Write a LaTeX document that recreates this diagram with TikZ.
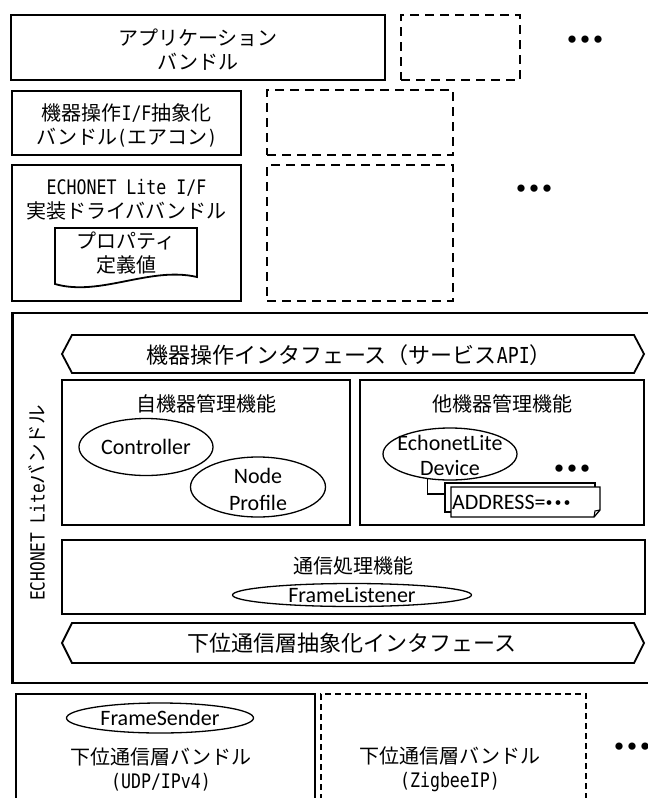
\documentclass[tikz,border=0pt]{standalone}
\usepackage{fontspec}
\setmainfont{Noto Sans CJK JP}
\newfontfamily\cbfont{Carlito}
\newfontfamily\gmfont[FakeStretch=0.83]{DejaVu Sans Mono}
\usetikzlibrary{shapes.geometric}
\newcommand\tridots{{\normalfont\fontsize{26}{26}\selectfont\bfseries ・\kern-13pt・\kern-13pt・}}
\newcommand\smalldots{{\normalfont\fontsize{17}{17}\selectfont\bfseries \kern-5pt・\kern-8pt・\kern-8pt・}}
\begin{document}
\begin{tikzpicture}[x=1pt,y=-1pt,
  sbox/.style={draw, line width=1.8pt, inner sep=0pt},
  dbox/.style={draw, line width=1.8pt, dash pattern=on 9pt off 6pt, inner sep=0pt},
  tdbox/.style={draw, line width=1.2pt, dash pattern=on 6pt off 4pt, inner sep=0pt},
  ell/.style={draw, ellipse, line width=1.3pt, inner sep=0pt},
  jt/.style={inner sep=0pt, align=center, font=\fontsize{20}{24}\selectfont},
  jbig/.style={inner sep=0pt, align=center, font=\fontsize{22}{26}\selectfont},
  cb/.style={inner sep=0pt, align=center, font=\cbfont\fontsize{22}{25}\selectfont},
  dots/.style={inner sep=0pt}
]
\clip (0,0) rectangle (648,798);
\useasboundingbox (0,0) rectangle (648,798);

% ---- top bundles ----
\node[sbox, minimum width=374pt, minimum height=65pt] (app) at (198,47.5) {};
\node[jt] (apptext) at (198,50) {アプリケーション\\バンドル};
\node[dbox, minimum width=119pt, minimum height=65pt] (d1) at (460.5,47.5) {};
\node[dots] (dots1) at (585,43) {\tridots};

\node[sbox, minimum width=229pt, minimum height=64pt] (ifb) at (126.5,123) {};
\node[jt] (ifbtext) at (126.5,125) {機器操作{\gmfont I/F}抽象化\\バンドル{\gmfont (}エアコン{\gmfont )}};
\node[dbox, minimum width=186pt, minimum height=65pt] (d2) at (360,122.5) {};

\node[sbox, minimum width=229pt, minimum height=136pt] (drv) at (126.5,233) {};
\node[jt] (drvtext) at (126.5,200) {{\gmfont ECHONET Lite I/F}\\実装ドライババンドル};
\draw[line width=1.8pt, fill=white] (55,228) -- (197,228) -- (197,277)
   .. controls (150,266) and (100,297) .. (55,284) -- cycle;
\node[jt] (doctext) at (126,253) {プロパティ\\定義値};
\node[dbox, minimum width=186pt, minimum height=136pt] (d3) at (360,233) {};
\node[dots] (dots2) at (534,192) {\tridots};

% ---- ECHONET Lite bundle ----
\node[draw, line width=2.8pt, inner sep=0pt, minimum width=657pt, minimum height=370pt] (elb) at (341.35,498) {};
\node[inner sep=0pt, rotate=90, font=\fontsize{19.5}{22}\selectfont] (elbl) at (37,503) {{\gmfont ECHONET Lite}バンドル};

\draw[line width=1.8pt] (62,354) -- (72,335) -- (634,335) -- (644,354) -- (634,373) -- (72,373) -- cycle;
\node[jbig] (api) at (349,355) {機器操作インタフェース（サービス{\gmfont API}）};

\node[sbox, minimum width=288pt, minimum height=145pt] (self) at (206,452.5) {};
\node[jt] (selft) at (206,404) {自機器管理機能};
\node[ell, minimum width=134pt, minimum height=57pt] (ctrl) at (146,447) {};
\node[cb] (ctrlt) at (ctrl) {Controller};
\node[ell, minimum width=135pt, minimum height=60pt, fill=white] (np) at (258,487) {};
\node[cb, font=\cbfont\fontsize{22}{27}\selectfont] (npt) at (258,489) {Node\\Profile};

\node[sbox, minimum width=284pt, minimum height=145pt] (other) at (502,452.5) {};
\node[jt] (othert) at (502,404) {他機器管理機能};
\node[dots] (dots3) at (572,472) {\tridots};
\node[draw, line width=1.3pt, fill=white, inner sep=0pt, minimum width=150pt, minimum height=29pt] (addrback) at (520,497.5) {};
\draw[line width=1.3pt, fill=white] (451,487) -- (600,487) -- (600,510) -- (594,517) -- (451,517) -- cycle;
\draw[line width=1.1pt] (600,510) -- (595,511) -- (594,517);
\node[cb, anchor=west] (addr) at (452,502) {ADDRESS=\smalldots};
\node[ell, minimum width=134pt, minimum height=52pt] (dev) at (450,454) {};
\node[cb] (devt) at (450,455) {EchonetLite\\Device};
\coordinate (elbow) at (445,494);
\draw[line width=1.3pt] (dev.228) |- (elbow);

\node[sbox, minimum width=583pt, minimum height=74pt] (comm) at (353.5,577) {};
\node[jt] (commt) at (353.5,566) {通信処理機能};
\node[ell, minimum width=239pt, minimum height=23pt] (fl) at (352,595) {};
\node[cb] (flt) at (fl) {FrameListener};

\draw[line width=1.8pt] (62,643) -- (72,623) -- (634,623) -- (644,643) -- (634,663) -- (72,663) -- cycle;
\node[jbig] (lowif) at (352,643) {下位通信層抽象化インタフェース};

% ---- lower bundles ----
\node[sbox, minimum width=299pt, minimum height=130pt] (udp) at (165.5,759) {};
\node[ell, minimum width=187pt, minimum height=30pt] (fs) at (160,718) {};
\node[cb] (fst) at (fs) {FrameSender};
\node[jt] (udpt) at (161,769) {下位通信層バンドル\\{\gmfont (UDP/IPv4)}};
\node[tdbox, minimum width=265pt, minimum height=130pt] (zig) at (453.5,759) {};
\node[jt] (zigt) at (450,769) {下位通信層バンドル\\{\gmfont (ZigbeeIP)}};
\node[dots] (dots4) at (632,750) {\tridots};
\end{tikzpicture}
\end{document}
